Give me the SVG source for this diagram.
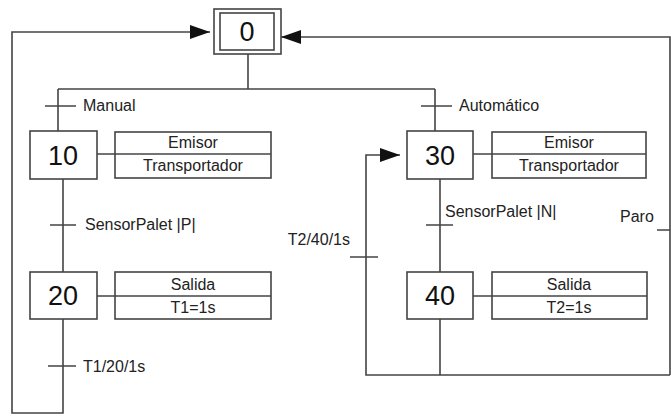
<svg xmlns="http://www.w3.org/2000/svg" width="671" height="417" viewBox="0 0 671 417">
  <defs>
    <style>
      .ln { fill: none; stroke: #444; stroke-width: 1.6; }
      .box { fill: #fff; stroke: #444; stroke-width: 1.6; }
      .lbl { font-family: "Liberation Sans", Arial, sans-serif; font-size: 16px; fill: #222; }
      .act { font-family: "Liberation Sans", Arial, sans-serif; font-size: 16px; fill: #222; text-anchor: middle; }
      .num { font-family: "Liberation Sans", Arial, sans-serif; font-size: 27px; fill: #111; text-anchor: middle; }
    </style>
    <marker id="arr" viewBox="0 0 20 14" refX="20" refY="7" markerWidth="20" markerHeight="14" markerUnits="userSpaceOnUse" orient="auto">
      <path d="M0,0 L20,7 L0,14 Z" fill="#111"/>
    </marker>
  </defs>

  <!-- connectors and transitions -->
  <g id="connectors">
    <!-- divergence from initial step -->
    <path class="ln" d="M248,54 V89 M58,89 H435 M58,89 V131 M435,89 V131"/>
    <!-- left branch -->
    <path class="ln" d="M63,179 V272 M63,319 V413 H12 V32 H210" marker-end="url(#arr)"/>
    <!-- right branch -->
    <path class="ln" d="M440,179 V272 M440,319 V375"/>
    <path class="ln" d="M670,375 H366 V155 H400" marker-end="url(#arr)"/>
    <path class="ln" d="M670,375 V37 H281" marker-end="url(#arr)"/>
    <!-- action links -->
    <path class="ln" d="M97,154 H115 M97,296 H115 M473,154 H492 M473,296 H492"/>
    <!-- transition bars -->
    <path class="ln" d="M45,106 H76 M421,106 H452 M50,225 H76 M48,366 H76 M426,225 H453 M350,257 H378 M657,230 H670"/>
  </g>

  <g id="step0">
    <rect class="box" x="214" y="9" width="67" height="45"/>
    <rect class="box" x="220" y="13" width="54" height="37"/>
    <text class="num" x="247" y="41">0</text>
  </g>

  <g id="t-manual"><text class="lbl" x="83" y="111">Manual</text></g>
  <g id="t-auto"><text class="lbl" x="459" y="111">Automático</text></g>

  <g id="step10">
    <rect class="box" x="30" y="131" width="67" height="48"/>
    <text class="num" x="63" y="165">10</text>
  </g>
  <g id="act10">
    <rect class="box" x="115" y="132" width="156" height="46"/>
    <line class="ln" x1="115" y1="154" x2="271" y2="154"/>
    <text class="act" x="193" y="148">Emisor</text>
    <text class="act" x="193" y="171">Transportador</text>
  </g>

  <g id="step30">
    <rect class="box" x="407" y="131" width="66" height="48"/>
    <text class="num" x="440" y="165">30</text>
  </g>
  <g id="act30">
    <rect class="box" x="492" y="132" width="154" height="46"/>
    <line class="ln" x1="492" y1="154" x2="646" y2="154"/>
    <text class="act" x="569" y="148">Emisor</text>
    <text class="act" x="569" y="171">Transportador</text>
  </g>

  <g id="t-sp"><text class="lbl" x="85" y="230">SensorPalet |P|</text></g>
  <g id="t-sn"><text class="lbl" x="445" y="217">SensorPalet |N|</text></g>
  <g id="t-paro"><text class="lbl" x="620" y="222">Paro</text></g>
  <g id="t-t2"><text class="lbl" x="350" y="245" text-anchor="end">T2/40/1s</text></g>

  <g id="step20">
    <rect class="box" x="30" y="272" width="67" height="47"/>
    <text class="num" x="63" y="305">20</text>
  </g>
  <g id="act20">
    <rect class="box" x="115" y="272" width="156" height="47"/>
    <line class="ln" x1="115" y1="296" x2="271" y2="296"/>
    <text class="act" x="193" y="290">Salida</text>
    <text class="act" x="193" y="313">T1=1s</text>
  </g>

  <g id="step40">
    <rect class="box" x="407" y="272" width="66" height="47"/>
    <text class="num" x="440" y="305">40</text>
  </g>
  <g id="act40">
    <rect class="box" x="492" y="272" width="155" height="47"/>
    <line class="ln" x1="492" y1="296" x2="647" y2="296"/>
    <text class="act" x="569" y="290">Salida</text>
    <text class="act" x="569" y="313">T2=1s</text>
  </g>

  <g id="t-t1"><text class="lbl" x="83" y="372">T1/20/1s</text></g>
</svg>
